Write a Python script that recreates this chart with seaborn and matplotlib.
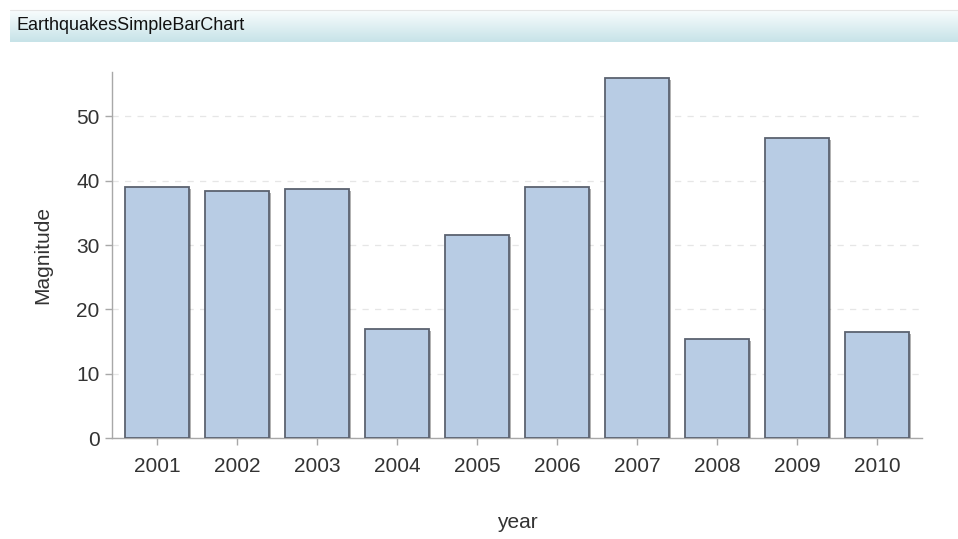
import numpy as np
import pandas as pd
import matplotlib
matplotlib.use("Agg")
import matplotlib.pyplot as plt
import matplotlib.patheffects as pe
import seaborn as sns

years = ["2001", "2002", "2003", "2004", "2005", "2006", "2007", "2008", "2009", "2010"]
magnitude = [39.0, 38.4, 38.7, 17.0, 31.5, 39.0, 56.0, 15.4, 46.6, 16.5]
y_ticks = [0, 10, 20, 30, 40, 50]

sns.set_theme(style="white")
plt.rcParams["font.family"] = ["Liberation Sans", "DejaVu Sans"]

df = pd.DataFrame({"year": years, "Magnitude": magnitude})

fig = plt.figure(figsize=(9.58, 5.39), dpi=100)

# header band with a soft vertical gradient
hdr = fig.add_axes([10 / 958, 1 - 42 / 539, 948 / 958, 32 / 539])
grad = np.linspace(0, 1, 64).reshape(-1, 1)
top_c = np.array([0.975, 0.99, 0.992])
bot_c = np.array([0.78, 0.89, 0.91])
img = top_c + (bot_c - top_c) * grad[..., None]
img = np.repeat(img, 4, axis=1)
hdr.imshow(img, aspect="auto", extent=[0, 1, 0, 1])
hdr.set_axis_off()
hdr.text(0.007, 0.5, "EarthquakesSimpleBarChart", fontsize=13, color="#111111",
         va="center", ha="left", transform=hdr.transAxes)
fig.add_artist(plt.Line2D([10 / 958, 1], [1 - 10 / 539, 1 - 10 / 539],
                          color="#e4e4e4", lw=0.8, transform=fig.transFigure))

ax = fig.add_axes([112 / 958, 1 - 438 / 539, 810 / 958, 366 / 539])
sns.barplot(data=df, x="year", y="Magnitude", color="#b8cce4", saturation=1,
            edgecolor="#5b6270", linewidth=1.3, width=0.79, ax=ax, zorder=3)

for p in ax.patches:
    p.set_path_effects([pe.SimplePatchShadow(offset=(1.8, -1.5), shadow_rgbFace="#000000",
                                             alpha=0.3), pe.Normal()])

ax.set_ylim(0, 56.9)
ax.set_xlim(-0.5625, 9.5625)
ax.set_yticks(y_ticks)
ax.set_yticklabels([str(t) for t in y_ticks])
ax.yaxis.grid(True, linestyle=(0, (5, 5)), color="#e6e6e6", linewidth=0.9, zorder=0)
ax.xaxis.grid(False)
ax.set_axisbelow(True)

for s in ["top", "right"]:
    ax.spines[s].set_visible(False)
for s in ["left", "bottom"]:
    ax.spines[s].set_color("#a8a8a8")
    ax.spines[s].set_linewidth(1.0)

ax.tick_params(axis="both", which="both", direction="out", length=5, width=1,
               color="#a8a8a8", labelsize=15, labelcolor="#333333", left=True, bottom=True)
ax.tick_params(axis="x", pad=9)
ax.tick_params(axis="y", pad=4)
ax.set_xlabel("year", fontsize=15, color="#333333", labelpad=26)
ax.set_ylabel("Magnitude", fontsize=15, color="#333333", labelpad=17)

fig.savefig("out.png", dpi=100, facecolor="white")
